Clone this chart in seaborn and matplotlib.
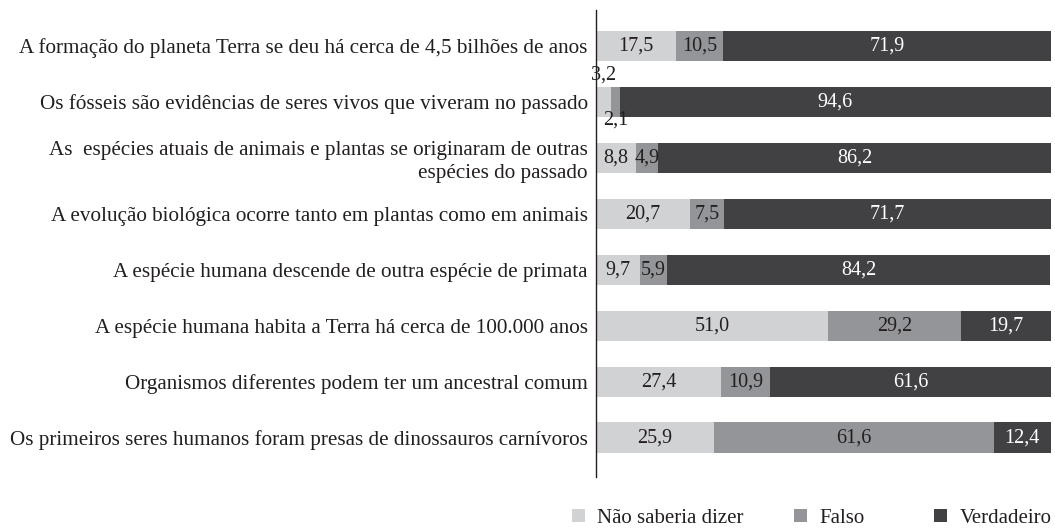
import numpy as np
import pandas as pd
import seaborn as sns
import matplotlib.pyplot as plt
from matplotlib.patches import Patch

# ------------------------------------------------
# Data
# ------------------------------------------------
afirmacoes = [
    "A formação do planeta Terra se deu há cerca de 4,5 bilhões de anos",
    "Os fósseis são evidências de seres vivos que viveram no passado",
    "As  espécies atuais de animais e plantas se originaram de outras\nespécies do passado",
    "A evolução biológica ocorre tanto em plantas como em animais",
    "A espécie humana descende de outra espécie de primata",
    "A espécie humana habita a Terra há cerca de 100.000 anos",
    "Organismos diferentes podem ter um ancestral comum",
    "Os primeiros seres humanos foram presas de dinossauros carnívoros",
]
nao_sabe = [17.5, 3.2, 8.8, 20.7, 9.7, 51.0, 27.4, 25.9]
falso = [10.5, 2.1, 4.9, 7.5, 5.9, 29.2, 10.9, 61.6]
verdadeiro = [71.9, 94.6, 86.2, 71.7, 84.2, 19.7, 61.6, 12.4]
series = ["Não saberia dizer", "Falso", "Verdadeiro"]
cores = ["#d1d2d4", "#939598", "#414042"]

df = pd.DataFrame({"afirmacao": afirmacoes, "Não saberia dizer": nao_sabe,
                   "Falso": falso, "Verdadeiro": verdadeiro})
df["c1"] = df["Não saberia dizer"]
df["c2"] = df["c1"] + df["Falso"]
df["c3"] = df["c2"] + df["Verdadeiro"]

# ------------------------------------------------
# Plot
# ------------------------------------------------
sns.set_style("white")
plt.rcParams["font.family"] = ["Liberation Serif", "DejaVu Serif"]

fig = plt.figure(figsize=(10.55, 5.28), dpi=100)
ax = fig.add_axes([0.565, 0.097, 0.433, 0.884])

# stacked bars: draw cumulative totals from back to front
for col, cor in zip(["c3", "c2", "c1"], cores[::-1]):
    sns.barplot(data=df, x=col, y="afirmacao", color=cor, orient="h",
                width=0.54, saturation=1, linewidth=0, ax=ax)

fmt = lambda v: f"{v:.1f}".replace(".", ",")
for i, row in df.iterrows():
    starts = [0, row["c1"], row["c2"]]
    vals = [row["Não saberia dizer"], row["Falso"], row["Verdadeiro"]]
    for k, (s, v) in enumerate(zip(starts, vals)):
        cor_txt = "white" if k == 2 else "#231f20"
        y = i
        if v < 4:
            y = i - 0.47 if k == 0 else i + 0.33
        ax.text(s + v / 2, y, fmt(v), ha="center", va="center", fontsize=14.5,
                color=cor_txt)

ax.set_xlim(0, 100.4)
ax.set_ylim(7.7, -0.64)
ax.set_xlabel("")
ax.set_ylabel("")
ax.set_xticks([])
ax.tick_params(axis="y", length=0, pad=6, labelsize=15.2, labelcolor="#231f20")
for lab in ax.get_yticklabels():
    lab.set_multialignment("right")
    lab.set_linespacing(1.3)
sns.despine(ax=ax, left=False, bottom=True)
ax.spines["left"].set_color("#231f20")
ax.spines["left"].set_linewidth(1)

# legend entries placed one by one, as in the original layout
leg_x = [572 / 1055, 794 / 1055, 934 / 1055]
for nome, cor, x in zip(series, cores, leg_x):
    leg = fig.legend([Patch(facecolor=cor, edgecolor="none")], [nome],
                     loc="center left", bbox_to_anchor=(x, 0.018),
                     frameon=False, fontsize=15, handlelength=0.62,
                     handleheight=0.62, handletextpad=0.6, borderpad=0,
                     borderaxespad=0, labelcolor="#231f20")

plt.savefig("out.png", dpi=100)
plt.close(fig)
